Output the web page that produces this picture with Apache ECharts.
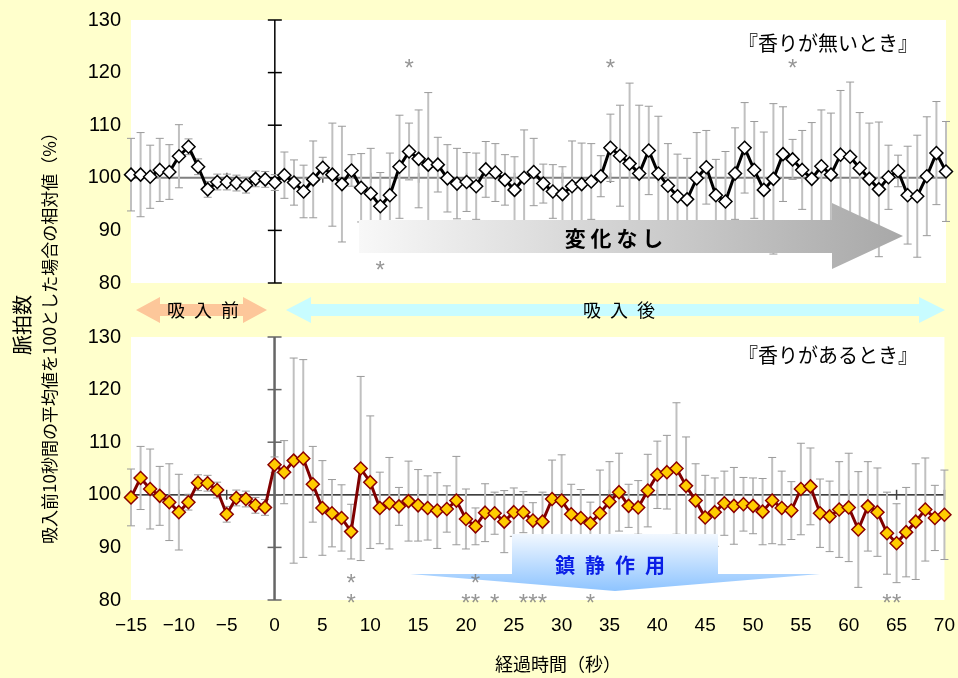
<!DOCTYPE html>
<html>
<head>
<meta charset="utf-8">
<script src="https://cdn.jsdelivr.net/npm/echarts@6/dist/echarts.min.js"></script>
<style>
html, body { margin: 0; padding: 0; background: #ffffcc; }
#chart { width: 958px; height: 678px; }
</style>
</head>
<body>
<div id="chart"></div>
<script>
// 経過時間(秒)
const seconds = [-15, -14, -13, -12, -11, -10, -9, -8, -7, -6, -5, -4, -3, -2, -1,
  0, 1, 2, 3, 4, 5, 6, 7, 8, 9, 10, 11, 12, 13, 14, 15, 16, 17, 18, 19, 20,
  21, 22, 23, 24, 25, 26, 27, 28, 29, 30, 31, 32, 33, 34, 35, 36, 37, 38, 39, 40,
  41, 42, 43, 44, 45, 46, 47, 48, 49, 50, 51, 52, 53, 54, 55, 56, 57, 58, 59, 60,
  61, 62, 63, 64, 65, 66, 67, 68, 69, 70]

// 香りが無いとき
const noScentMean = [100.6, 100.6, 100.2, 101.5, 101.1, 104.1, 105.9, 102.1, 97.8, 99.2, 99.2, 99.0, 98.6, 99.8, 99.7,
  99.1, 100.5, 99.1, 97.4, 99.7, 101.9, 100.6, 98.8, 101.4, 98.1, 97.0, 94.6, 96.7, 102.1, 105.0, 103.6,
  102.5, 102.5, 99.9, 98.9, 99.2, 98.4, 101.6, 101.0, 99.6, 97.7, 100.0, 101.1, 98.9, 97.4, 96.9,
  98.4, 98.8, 99.3, 100.3, 105.7, 104.2, 102.7, 100.8, 105.2, 100.8, 98.5, 96.5, 95.9, 99.9, 102.0,
  96.7, 95.5, 100.8, 105.7, 101.5, 97.7, 99.8, 104.5, 103.5, 101.5, 99.8, 102.2, 100.6, 104.4, 104.0,
  101.8, 99.8, 97.8, 100.1, 101.3, 96.7, 96.5, 100.3, 104.7, 101.2]
const noScentSd = [6.9, 8.0, 6.0, 6.0, 5.2, 6.0, 1.5, 1.5, 1.5, 1.5, 1.5, 1.5, 1.5, 1.5, 1.5,
  1.5, 4.4, 4.3, 5.0, 7.3, 2.0, 9.8, 11.0, 3.0, 6.5, 8.6, 6.4, 8.0, 9.8, 5.4, 9.3,
  13.7, 5.2, 6.4, 6.7, 5.6, 6.3, 5.3, 5.5, 4.8, 6.3, 9.1, 6.4, 3.7, 5.1, 5.2,
  8.6, 7.8, 7.2, 3.9, 6.4, 9.6, 15.3, 13.0, 8.4, 10.9, 8.0, 8.0, 7.8, 8.7, 7.0,
  6.8, 9.5, 8.7, 8.6, 9.2, 11.0, 14.3, 9.0, 3.8, 7.5, 10.7, 10.7, 11.7, 12.2, 14.2,
  10.6, 10.6, 12.8, 6.1, 3.0, 9.3, 11.6, 11.3, 9.8, 9.5]

// 香りがあるとき
const scentMean = [99.5, 103.2, 101.1, 99.8, 98.6, 96.7, 98.6, 102.3, 102.2, 100.9, 96.3, 99.4, 99.2, 98.0, 97.6,
  105.7, 104.3, 106.5, 106.9, 102.0, 97.5, 96.5, 95.6, 93.0, 105.0, 102.4, 97.5, 98.4, 97.8, 98.8, 98.0,
  97.5, 97.0, 97.3, 98.9, 95.4, 94.0, 96.6, 96.5, 94.9, 96.7, 96.7, 95.1, 94.9, 99.2, 98.9,
  96.3, 95.6, 94.6, 96.5, 98.7, 100.5, 97.9, 97.6, 100.8, 103.8, 104.3, 105.0, 101.7, 98.9, 95.7,
  96.7, 98.4, 97.9, 98.2, 97.9, 96.8, 98.9, 97.5, 97.0, 101.1, 101.6, 96.5, 95.9, 97.2, 97.6,
  93.4, 97.8, 96.7, 92.7, 90.8, 92.9, 94.9, 97.2, 95.6, 96.2]
const scentSd = [5.4, 6.0, 7.6, 5.6, 7.3, 7.2, 1.5, 1.5, 1.5, 1.5, 1.5, 1.5, 1.5, 1.5, 1.5,
  1.5, 6.0, 19.5, 18.8, 7.2, 9.0, 6.4, 6.3, 5.2, 17.5, 12.6, 6.8, 8.7, 3.6, 7.6, 6.8,
  6.1, 7.2, 4.4, 8.4, 5.7, 3.5, 5.5, 4.0, 5.9, 4.6, 3.9, 3.4, 5.6, 7.4, 8.7,
  5.7, 5.4, 4.0, 8.2, 7.6, 7.4, 4.1, 5.1, 6.9, 6.4, 7.0, 12.5, 9.3, 7.0, 8.0,
  6.5, 6.1, 7.3, 5.1, 5.3, 6.3, 8.2, 7.0, 5.5, 8.7, 7.3, 6.5, 6.7, 9.1, 10.3,
  11.0, 8.5, 8.4, 7.8, 7.5, 8.5, 11.0, 9.8, 6.2, 8.5]

// 有意差の印(*)
const noScentStars = [[11, 83.4], [14, 121.8], [35, 121.8], [54, 121.8]]
const scentStars = [[8, 84.1], [21, 84.1], [8, 80.4], [20, 80.4], [21, 80.4], [23, 80.4],
  [26, 80.4], [27, 80.4], [28, 80.4], [33, 80.4], [64, 80.4], [65, 80.4]]

const xTicks = [-15, -10, -5, 0, 5, 10, 15, 20, 25, 30, 35, 40, 45, 50, 55, 60, 65, 70]
const yTicks = [80, 90, 100, 110, 120, 130]

const JP = 'Noto Sans CJK JP'
const NUM = 'Liberation Sans'

const chart = echarts.init(document.getElementById('chart'))

// 100の横線と0秒の縦線(エクセル風の交差軸)
function crossItem(hColor, hWidth, htColor, vColor, vWidth) {
  return function (params, api) {
    const kids = []
    const l = api.coord([xTicks[0], 100])
    const r = api.coord([xTicks[xTicks.length - 1], 100])
    kids.push({ type: 'line', shape: { x1: l[0], y1: l[1], x2: r[0], y2: r[1] }, style: { stroke: hColor, lineWidth: hWidth } })
    xTicks.forEach(t => {
      const p = api.coord([t, 100])
      kids.push({ type: 'line', shape: { x1: p[0], y1: p[1] - 5, x2: p[0], y2: p[1] + 5 }, style: { stroke: htColor, lineWidth: 1.5 } })
    })
    const b = api.coord([0, yTicks[0]])
    const tp = api.coord([0, yTicks[yTicks.length - 1]])
    kids.push({ type: 'line', shape: { x1: b[0], y1: b[1], x2: tp[0], y2: tp[1] }, style: { stroke: vColor, lineWidth: vWidth } })
    yTicks.forEach(v => {
      const p = api.coord([0, v])
      kids.push({ type: 'line', shape: { x1: p[0] - 7, y1: p[1], x2: p[0] + 7, y2: p[1] }, style: { stroke: vColor, lineWidth: 1.5 } })
    })
    return { type: 'group', children: kids }
  }
}

function errorBarItem(params, api) {
  const x = api.value(0)
  const top = api.coord([x, api.value(2)])
  const bot = api.coord([x, api.value(1)])
  const w = 4
  const cap = { stroke: '#9a9a9a', lineWidth: 1 }
  return {
    type: 'group',
    children: [
      { type: 'line', shape: { x1: top[0], y1: top[1], x2: bot[0], y2: bot[1] }, style: { stroke: '#c0c0c0', lineWidth: 2 } },
      { type: 'line', shape: { x1: top[0] - w, y1: top[1], x2: top[0] + w, y2: top[1] }, style: cap },
      { type: 'line', shape: { x1: bot[0] - w, y1: bot[1], x2: bot[0] + w, y2: bot[1] }, style: cap }
    ]
  }
}

function panelSeries(idx, mean, sd, stars, cross, lineColor, fill, border) {
  return [
    {
      type: 'custom', xAxisIndex: idx, yAxisIndex: idx, z: 1, silent: true,
      renderItem: cross, data: [[0, 100]]
    },
    {
      type: 'custom', xAxisIndex: idx, yAxisIndex: idx, z: 2, silent: true,
      renderItem: errorBarItem,
      data: seconds.map((s, i) => [s, mean[i] - sd[i], mean[i] + sd[i]])
    },
    {
      type: 'line', xAxisIndex: idx, yAxisIndex: idx, z: 3, clip: false,
      data: seconds.map((s, i) => [s, mean[i]]),
      symbol: 'diamond', symbolSize: 13,
      lineStyle: { color: lineColor, width: 3 },
      itemStyle: { color: fill, borderColor: border, borderWidth: 1.5 }
    },
    {
      type: 'scatter', xAxisIndex: idx, yAxisIndex: idx, z: 110, clip: false,
      data: stars, symbolSize: 1,
      itemStyle: { color: 'rgba(0,0,0,0)' },
      label: {
        show: true, position: 'inside', formatter: '*', offset: [0, 6],
        color: '#7a7a7a', fontSize: 24, fontFamily: NUM
      }
    }
  ]
}

const yAxisBase = {
  type: 'value', min: 80, max: 130, interval: 10,
  axisLine: { show: false }, axisTick: { show: false }, splitLine: { show: false },
  axisLabel: { color: '#000', fontSize: 20, fontFamily: NUM, margin: 10 }
}
const xAxisBase = {
  type: 'value', min: -15, max: 70, interval: 5,
  axisLine: { show: false }, axisTick: { show: false }, splitLine: { show: false }
}

function boxText(text, x, y, size, color, weight) {
  return {
    type: 'text', x: x, y: y, z: 101,
    style: {
      text: text, fill: color, font: weight + ' ' + size + 'px "' + JP + '"',
      align: 'center', verticalAlign: 'middle'
    }
  }
}

chart.setOption({
  animation: false,
  backgroundColor: '#ffffcc',
  grid: [
    { left: 131, top: 20, width: 815, height: 263, show: true, backgroundColor: '#fff', borderWidth: 0 },
    { left: 131, top: 337, width: 815, height: 263, show: true, backgroundColor: '#fff', borderWidth: 0 }
  ],
  xAxis: [
    Object.assign({ gridIndex: 0, axisLabel: { show: false } }, xAxisBase),
    Object.assign({
      gridIndex: 1,
      axisLabel: {
        color: '#000', fontSize: 19, fontFamily: NUM, margin: 16,
        formatter: v => String(v).replace('-', '\u2212')
      }
    }, xAxisBase)
  ],
  yAxis: [
    Object.assign({ gridIndex: 0 }, yAxisBase),
    Object.assign({ gridIndex: 1 }, yAxisBase)
  ],
  series: [].concat(
    panelSeries(0, noScentMean, noScentSd, noScentStars,
      crossItem('#808080', 2, '#555', '#000', 1.5), '#000', '#fff', '#000'),
    panelSeries(1, scentMean, scentSd, scentStars,
      crossItem('#000', 1.2, '#444', '#666', 2.5), '#800000', '#ffcc00', '#8b0000')
  ),
  graphic: [
    // 変化なし
    {
      type: 'polygon', z: 100, silent: true,
      shape: { points: [[359, 220], [832, 220], [832, 203], [903, 236], [832, 269], [832, 253], [359, 253]] },
      style: {
        fill: new echarts.graphic.LinearGradient(0, 0, 1, 0, [
          { offset: 0, color: '#f8f8f8' }, { offset: 1, color: '#a8a8a8' }
        ])
      }
    },
    boxText('変 化 な し', 614, 238, 21, '#000', 'bold'),
    // 鎮静作用
    {
      type: 'polygon', z: 100, silent: true,
      shape: { points: [[512, 534], [718, 534], [718, 574], [820, 574], [615, 591], [410, 574], [512, 574]] },
      style: {
        fill: new echarts.graphic.LinearGradient(0, 0, 0, 1, [
          { offset: 0, color: '#f2f8ff' }, { offset: 1, color: '#8ec4ff' }
        ])
      }
    },
    boxText('鎮\u2002静\u2002作\u2002用', 610, 565, 20, '#0a1ee6', 'bold'),
    // 吸入前
    {
      type: 'polygon', z: 100, silent: true,
      shape: { points: [[136, 310], [160, 297], [160, 304], [243, 304], [243, 297], [267, 310], [243, 323], [243, 316], [160, 316], [160, 323]] },
      style: { fill: '#fdc79a' }
    },
    boxText('吸\u2002入\u2002前', 203, 310, 18, '#000', 'normal'),
    // 吸入後
    {
      type: 'polygon', z: 100, silent: true,
      shape: { points: [[286, 310], [311, 297], [311, 304], [919, 304], [919, 297], [945, 310], [919, 323], [919, 316], [311, 316], [311, 323]] },
      style: { fill: '#c8fcff' }
    },
    boxText('吸\u2002入\u2002後', 619, 310, 18, '#000', 'normal'),
    // パネル名
    boxText('『香りが無いとき』', 828, 43, 20, '#000', 'normal'),
    boxText('『香りがあるとき』', 828, 355, 20, '#000', 'normal'),
    // 軸タイトル
    {
      type: 'text', x: 22, y: 325, rotation: Math.PI / 2, z: 101,
      style: { text: '脈拍数', fill: '#000', font: '20px "' + JP + '"', align: 'center', verticalAlign: 'middle' }
    },
    {
      type: 'text', x: 50, y: 334, rotation: Math.PI / 2, z: 101,
      style: { text: '吸入前10秒間の平均値を100とした場合の相対値（%）', fill: '#000', font: '17px "' + JP + '"', align: 'center', verticalAlign: 'middle' }
    },
    {
      type: 'text', x: 558, y: 664, z: 101,
      style: { text: '経過時間（秒）', fill: '#000', font: '18px "' + JP + '"', align: 'center', verticalAlign: 'middle' }
    }
  ]
})
</script>
</body>
</html>
